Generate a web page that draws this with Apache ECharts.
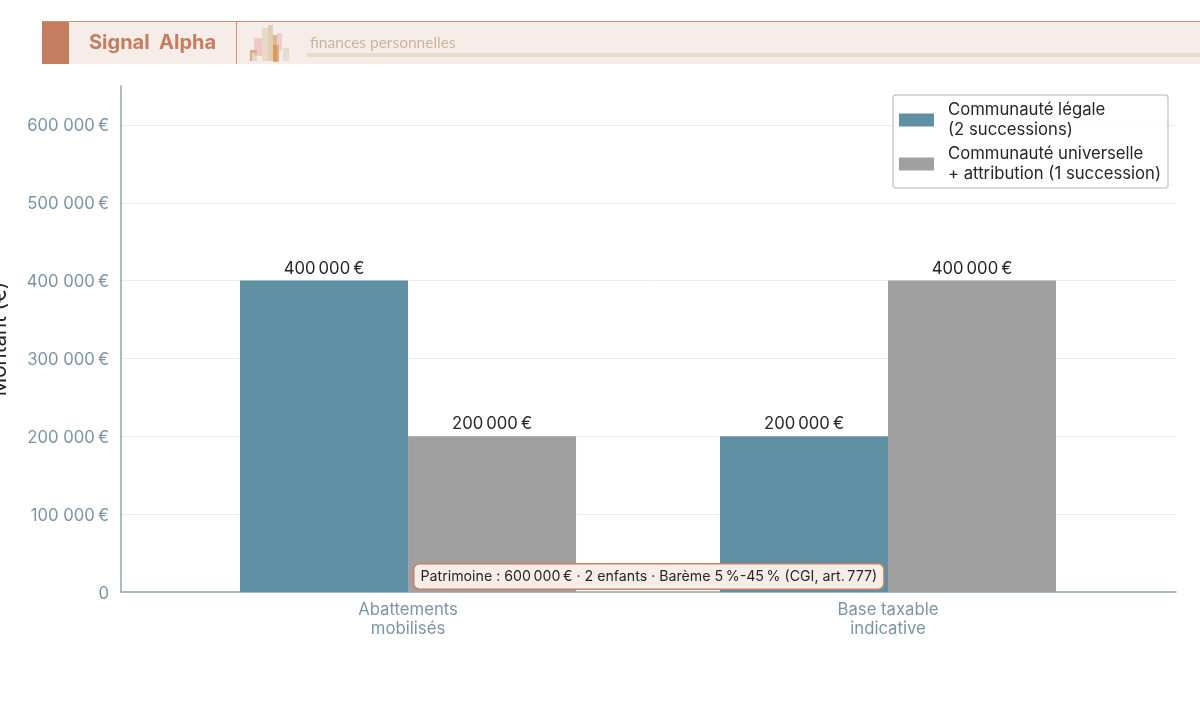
<!DOCTYPE html>
<html>
<head>
<meta charset="utf-8">
<style>html,body{margin:0;padding:0;background:#fff}#chart{width:1200px;height:721px}</style>
<script src="https://cdn.jsdelivr.net/npm/echarts@6/dist/echarts.min.js"></script>
</head>
<body>
<div id="chart"></div>
<script>
// Values shown on the chart
const categories = ['Abattements\nmobilisés', 'Base taxable\nindicative'];
const seriesNames = ['Communauté légale\n(2 successions)', 'Communauté universelle\n+ attribution (1 succession)'];
const legaleValues = [400000, 200000];
const universelleValues = [200000, 400000];
const yTicks = [0, 100000, 200000, 300000, 400000, 500000, 600000];
const annotation = 'Patrimoine : 600\u202f000\u202f€ · 2 enfants · Barème 5\u202f%-45\u202f% (CGI, art.\u202f777)';

const FONT = 'Inter, "Noto Sans", sans-serif';
const euro = v => String(v).replace(/\B(?=(\d{3})+$)/g, '\u202f') + '\u202f€';
const euroTick = v => v === 0 ? '0' : String(v).replace(/\B(?=(\d{3})+$)/g, '\u00a0') + '\u202f€';

// Small decorative skyline in the header band
const skyline = [
  [250, 50, 7, 11, 'rgba(218,140,90,0.7)'], [252, 53, 5, 8, 'rgba(222,222,210,0.9)'],
  [254, 38, 8, 18, 'rgba(232,165,165,0.5)'], [262, 28, 6, 33, 'rgba(228,212,190,0.8)'],
  [268, 25, 5, 36, 'rgba(215,190,150,0.65)'], [273, 35, 4, 26, 'rgba(200,165,110,0.7)'],
  [273, 45, 6, 17, 'rgba(218,130,50,0.6)'], [277, 33, 5, 18, 'rgba(232,165,165,0.45)'],
  [283, 48, 6, 13, 'rgba(222,218,200,0.85)']
].map(([x, y, width, height, fill]) => ({
  type: 'rect', z: 12, shape: { x, y, width, height }, style: { fill }, silent: true
}));

const chart = echarts.init(document.getElementById('chart'), null, { renderer: 'canvas' });
chart.setOption({
  animation: false,
  backgroundColor: '#ffffff',
  textStyle: { fontFamily: FONT },
  grid: { left: 121, right: 24, top: 86, bottom: 129, containLabel: false, outerBoundsMode: 'none' },
  xAxis: {
    type: 'value', min: -0.598, max: 1.6,
    splitLine: { show: false },
    axisLine: { show: true, onZero: false, lineStyle: { color: '#8fa5b3', width: 1.5 } },
    axisTick: { show: false },
    axisLabel: {
      customValues: [0, 1],
      formatter: v => categories[v],
      color: '#7b94a5', fontSize: 16.7, lineHeight: 19, margin: 8, fontFamily: FONT
    }
  },
  yAxis: {
    type: 'value', min: 0, max: 650000, interval: 100000,
    name: 'Montant (€)', nameLocation: 'middle', nameGap: 111, nameRotate: 90,
    nameTextStyle: { color: '#222', fontSize: 20.5, fontFamily: FONT },
    axisLine: { show: true, onZero: false, lineStyle: { color: '#8fa5b3', width: 1.5 } },
    axisTick: { show: false },
    axisLabel: {
      customValues: yTicks, formatter: euroTick,
      color: '#7b94a5', fontSize: 16.7, margin: 12, verticalAlign: 'top', lineHeight: 3, fontFamily: FONT
    },
    splitLine: { show: true, showMaxLine: false, lineStyle: { color: '#ececec', width: 1 } }
  },
  legend: {
    show: true, orient: 'vertical', right: 32, top: 95,
    padding: [5, 7, 4, 6], itemGap: 4, itemWidth: 35, itemHeight: 13,
    icon: 'rect',
    backgroundColor: 'rgba(255,255,255,0.85)', borderColor: '#cccccc', borderWidth: 1.5, borderRadius: 3,
    textStyle: { color: '#262626', fontSize: 16.7, lineHeight: 20, fontFamily: FONT, padding: [0, 0, 0, 9] },
    data: seriesNames
  },
  series: [
    { name: seriesNames[0], values: legaleValues, color: '#5f8fa3' },
    { name: seriesNames[1], values: universelleValues, color: '#a0a0a0' }
  ].map(s => ({
    type: 'bar', name: s.name,
    data: s.values.map((v, i) => [i, v]),
    barWidth: 168, barGap: 0,
    itemStyle: { color: s.color },
    label: {
      show: true, position: 'top', distance: 3.5,
      formatter: p => euro(p.value[1]),
      color: '#262626', fontSize: 16.7, fontFamily: FONT
    }
  })),
  graphic: { elements: [
    { type: 'rect', z: 10, shape: { x: 42, y: 22, width: 1158, height: 42 }, style: { fill: '#f7ede8' }, silent: true },
    { type: 'rect', z: 11, shape: { x: 42, y: 21, width: 1158, height: 1 }, style: { fill: '#cf8f75' }, silent: true },
    { type: 'rect', z: 11, shape: { x: 42, y: 22, width: 27, height: 42 }, style: { fill: '#c47d5e' }, silent: true },
    { type: 'rect', z: 11, shape: { x: 236, y: 22, width: 1, height: 42 }, style: { fill: '#d08f74' }, silent: true },
    { type: 'rect', z: 11, shape: { x: 307, y: 53, width: 893, height: 4 }, style: { fill: '#e9dacd' }, silent: true },
    { type: 'group', silent: true, children: skyline },
    { type: 'text', z: 12, x: 89, y: 33, silent: true,
      style: { text: 'Signal  Alpha', fill: '#c47d5e', font: '700 20px Inter, sans-serif' } },
    { type: 'text', z: 12, x: 310, y: 35, silent: true,
      style: { text: 'finances personnelles', fill: '#c9b59d', font: '400 15.5px Lato, sans-serif' } },
    { type: 'text', z: 20, x: 414.5, y: 564.5, silent: true,
      style: {
        text: annotation, fill: '#262626', font: '400 14.2px ' + FONT,
        backgroundColor: '#f7ede8', borderColor: '#c9805f', borderWidth: 1.5, borderRadius: 5,
        padding: [5, 6, 5, 6]
      } }
  ] }
});
</script>
</body>
</html>
